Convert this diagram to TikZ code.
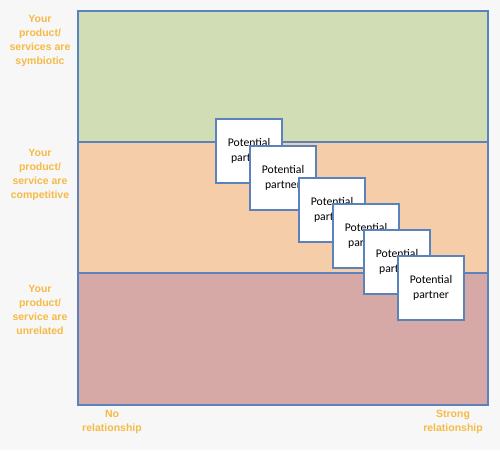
\documentclass[tikz,border=0pt]{standalone}
\usepackage{fontspec}
\setmainfont{Liberation Sans}
\newfontfamily\cardfont{Carlito}
\usetikzlibrary{positioning}
\definecolor{bggray}{HTML}{F7F7F7}
\definecolor{symgreen}{HTML}{D1DDB5}
\definecolor{compeach}{HTML}{F5CDA8}
\definecolor{unrrose}{HTML}{D6A9A6}
\definecolor{edgeblue}{HTML}{5A82BD}
\definecolor{lblgold}{HTML}{F6BA46}

\tikzset{
  band/.style={draw=edgeblue, line width=2pt},
  card/.style={draw=edgeblue, line width=1.6pt, fill=white, minimum width=66pt, minimum height=64pt,
    inner sep=0pt, align=center, font=\cardfont\fontsize{11.7}{15}\selectfont},
  sidelbl/.style={text=lblgold, align=center, font=\bfseries\fontsize{10.5}{14}\selectfont}
}

\begin{document}
\begin{tikzpicture}[x=1pt, y=-1pt]

% Background (pixel grid, y pointing down)
\fill[bggray] (0,0) rectangle (500,450);

% Bands
\draw[band, fill=symgreen] (78,11) rectangle (488,142);
\draw[band, fill=compeach] (78,142) rectangle (488,273);
\draw[band, fill=unrrose] (78,273) rectangle (488,405);

% Row labels
\node[sidelbl] (lbl-sym) at (40,41) {Your\\product/\\services are\\symbiotic};
\node[sidelbl] (lbl-comp) at (40,175) {Your\\product/\\service are\\competitive};
\node[sidelbl] (lbl-unr) at (40,310) {Your\\product/\\service are\\unrelated};

% Axis labels
\node[sidelbl] (lbl-none) at (112,422) {No\\relationship};
\node[sidelbl] (lbl-strong) at (453,422) {Strong\\relationship};

% Potential partners, stacked from upper left to lower right
\node[card] (card1) at (249,151) {Potential\\partner};
\node[card] (card2) at (283,178) {Potential\\partner};
\node[card] (card3) at (332,210) {Potential\\partner};
\node[card] (card4) at (366,236) {Potential\\partner};
\node[card] (card5) at (397,262) {Potential\\partner};
\node[card] (card6) at (431,288) {Potential\\partner};

\end{tikzpicture}
\end{document}
